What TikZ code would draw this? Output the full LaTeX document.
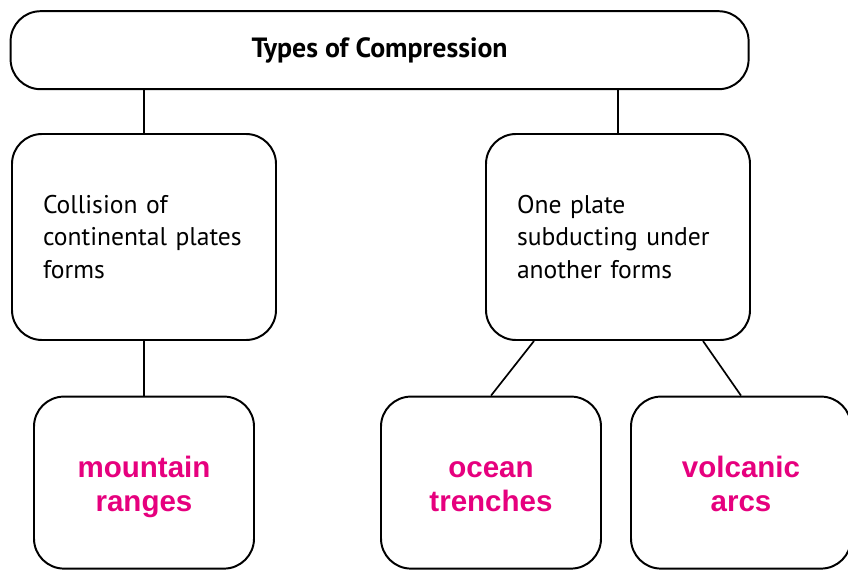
\documentclass[tikz,border=0pt]{standalone}
\usepackage{fontspec}
\setmainfont{PT Sans}
\newfontfamily\pinkfont{Liberation Sans}
\usetikzlibrary{calc}
\definecolor{hotpink}{RGB}{230,0,126}
\newcommand{\toprow}{\rule{0pt}{24.4pt}}
\newcommand{\botrow}{\rule[-7.35pt]{0pt}{7.35pt}}

\tikzset{
  box/.style={draw=black, line width=1.4pt, rounded corners=0.75cm, inner sep=0pt},
  outcome/.style={box, minimum width=5.5cm, minimum height=4.3cm, align=center,
    text=hotpink, font=\pinkfont\bfseries\fontsize{21}{24.5}\selectfont},
  link/.style={line width=1.2pt}
}

\begin{document}
\begin{tikzpicture}[font=\fontsize{18.2}{23}\selectfont]
  \useasboundingbox (0,0) rectangle (21.2,14.225);

  \node[box, minimum width=18.45cm, minimum height=1.95cm,
        font=\bfseries\fontsize{19.8}{24}\selectfont] (types) at (9.49,12.97) {Types of Compression};

  \node[box, minimum width=6.6cm, minimum height=5.15cm, align=left, text width=5.05cm] (collision) at (3.6,8.3)
        {Collision of\\continental plates\\forms};
  \node[box, minimum width=6.6cm, minimum height=5.15cm, align=left, text width=5.05cm] (subduct) at (15.45,8.3)
        {One plate\\subducting under\\another forms};

  \node[outcome] (mountain) at (3.6,2.16) {\toprow mountain\\ranges\botrow};
  \node[outcome] (ocean) at (12.275,2.16) {\toprow ocean\\trenches\botrow};
  \node[outcome] (volcanic) at (18.525,2.16) {\toprow volcanic\\arcs\botrow};

  \draw[link] (collision.north) -- (collision.north |- types.south);
  \draw[link] (subduct.north) -- (subduct.north |- types.south);
  \draw[link] (collision.south) -- (mountain.north);
  \draw[link] ([xshift=-2.1cm]subduct.south) -- (ocean.north);
  \draw[link] ([xshift=2.125cm]subduct.south) -- (volcanic.north);
\end{tikzpicture}
\end{document}
